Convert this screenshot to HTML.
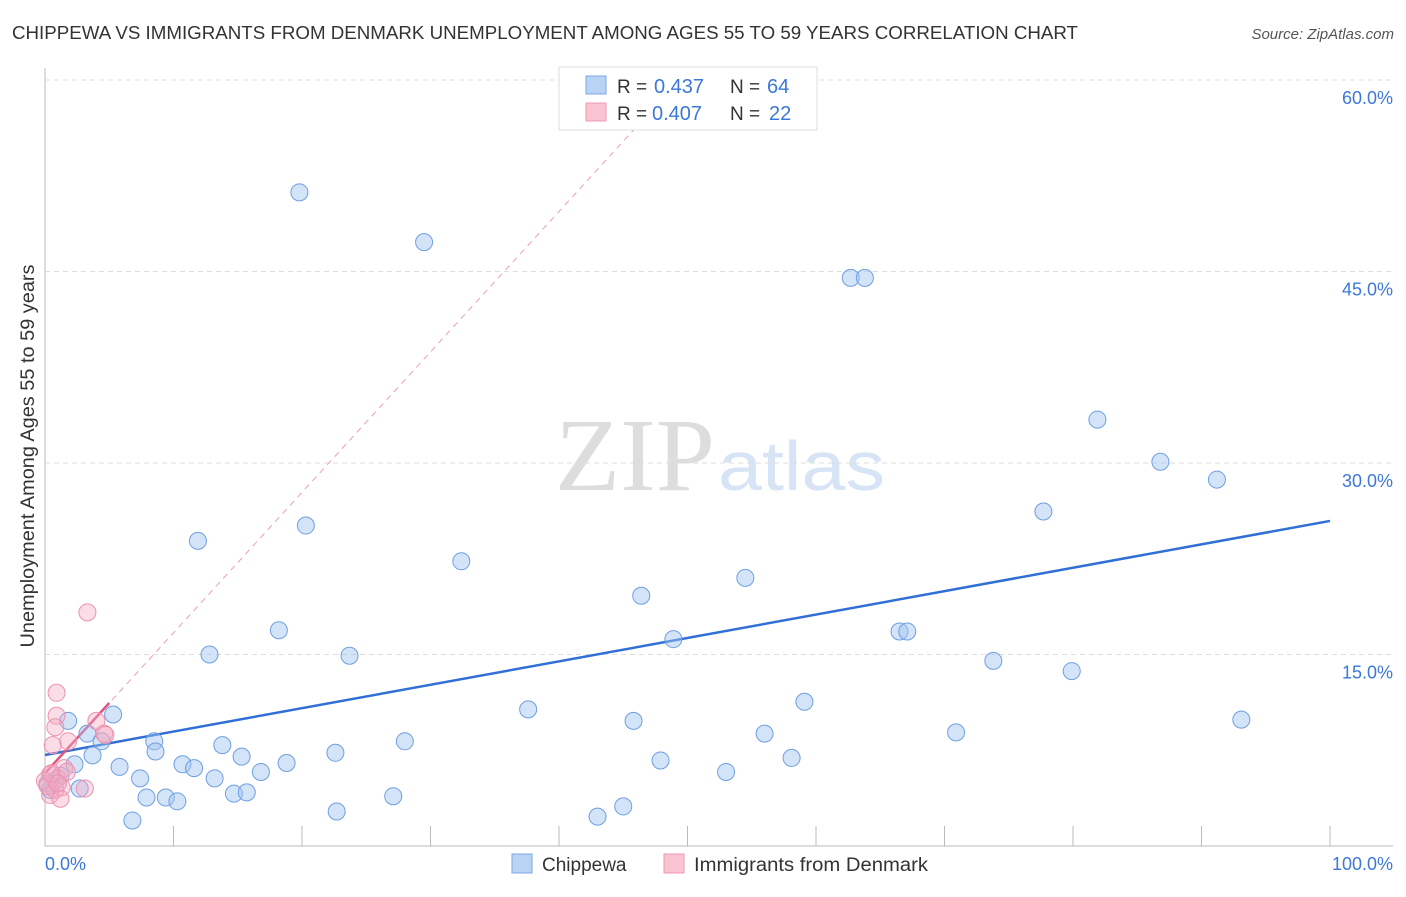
<!DOCTYPE html>
<html><head><meta charset="utf-8"><style>
body{margin:0;background:#fff;font-family:"Liberation Sans",sans-serif;}
svg text{font-family:"Liberation Sans",sans-serif;}
</style></head><body>
<svg id="chart" width="1406" height="892">
<text x="12" y="39" font-size="18" fill="#333" textLength="1066" lengthAdjust="spacingAndGlyphs">CHIPPEWA VS IMMIGRANTS FROM DENMARK UNEMPLOYMENT AMONG AGES 55 TO 59 YEARS CORRELATION CHART</text>
<text x="1394" y="39" font-size="15" fill="#555" text-anchor="end" font-style="italic">Source: ZipAtlas.com</text>
<text x="555" y="490" font-size="104" fill="#ddd" textLength="160" lengthAdjust="spacingAndGlyphs" style="font-family:'Liberation Serif',serif">ZIP</text>
<text x="718" y="490" font-size="70" fill="#d6e4f5" textLength="167" lengthAdjust="spacingAndGlyphs">atlas</text>
<g id="grid"></g><g id="ticks"></g><g id="lines"></g><g id="pts"></g>
<text transform="translate(34,456) rotate(-90)" font-size="19" fill="#333" text-anchor="middle" textLength="383" lengthAdjust="spacingAndGlyphs">Unemployment Among Ages 55 to 59 years</text>
<text x="45" y="870" font-size="18" fill="#3b78d8">0.0%</text>
<text x="1393" y="870" font-size="18" fill="#3b78d8" text-anchor="end">100.0%</text>
<g>
<rect x="559" y="67" width="258" height="63" fill="#fff" stroke="#ddd"/>
<rect x="586" y="76" width="20" height="18" fill="#b9d3f5" stroke="#7aa7e6"/>
<rect x="586" y="103" width="20" height="18" fill="#f9c3d2" stroke="#ee9ab3"/>
<text x="617" y="93" font-size="19" fill="#333">R =</text><text x="654" y="93" font-size="20" fill="#3b78d8">0.437</text>
<text x="730" y="93" font-size="19" fill="#333">N =</text><text x="767" y="93" font-size="20" fill="#3b78d8">64</text>
<text x="617" y="120" font-size="19" fill="#333">R =</text><text x="652" y="120" font-size="20" fill="#3b78d8">0.407</text>
<text x="730" y="120" font-size="19" fill="#333">N =</text><text x="769" y="120" font-size="20" fill="#3b78d8">22</text>
</g>
<g>
<rect x="512" y="854" width="20" height="19" fill="#b9d3f5" stroke="#7aa7e6"/>
<text x="542" y="871" font-size="19" fill="#333">Chippewa</text>
<rect x="664" y="854" width="20" height="19" fill="#f9c3d2" stroke="#ee9ab3"/>
<text x="694" y="871" font-size="19" fill="#333" textLength="234" lengthAdjust="spacingAndGlyphs">Immigrants from Denmark</text>
</g>
</svg>
<script>
const yTicks=[15,30,45,60];
const yTickLabels=["15.0%","30.0%","45.0%","60.0%"];
const xTicks=[0,10,20,30,40,50,60,70,80,90,100];
const chipX=[19.8,29.5,62.7,63.8,81.9,86.8,91.2,77.7,20.3,11.9,32.4,54.5,46.4,18.2,66.5,67.1,48.9,12.8,23.7,73.8,79.9,5.3,1.8,37.6,59.1,93.1,45.8,70.9,3.3,8.5,4.4,28.0,13.8,56.0,3.7,8.6,15.3,22.6,2.3,10.7,11.6,18.8,47.9,58.1,5.8,16.8,7.4,13.2,53.0,0.8,2.7,7.9,9.4,14.7,15.7,27.1,10.3,22.7,45.0,6.8,43.0,0.4,0.2,1.2];
const chipY=[51.2,47.3,44.5,44.5,33.4,30.1,28.7,26.2,25.1,23.9,22.3,21.0,19.6,16.9,16.8,16.8,16.2,15.0,14.9,14.5,13.7,10.3,9.8,10.7,11.3,9.9,9.8,8.9,8.8,8.2,8.2,8.2,7.9,8.8,7.1,7.4,7.0,7.3,6.4,6.4,6.1,6.5,6.7,6.9,6.2,5.8,5.3,5.3,5.8,5.1,4.5,3.8,3.8,4.1,4.2,3.9,3.5,2.7,3.1,2.0,2.3,4.4,4.9,5.5];
const denX=[3.3,0.9,0.9,4.0,0.8,1.8,0.6,4.6,1.5,0.4,1.0,0.0,1.3,0.8,0.4,3.1,1.2,0.2,0.5,4.7,1.7,1.0];
const denY=[18.3,12.0,10.2,9.8,9.3,8.2,7.9,8.8,6.1,5.6,5.3,5.1,4.6,4.4,4.0,4.5,3.7,4.7,5.7,8.7,5.8,4.9];
const chipTrend=[7.13,25.46];
const denTrend=[5.7,1.1];
const X=v=>45+v*12.85, Y=v=>846-v*12.767;
const NS="http://www.w3.org/2000/svg";
function mk(p,t,a){const e=document.createElementNS(NS,t);for(const k in a)e.setAttribute(k,a[k]);document.getElementById(p).appendChild(e);return e;}
let ax=mk('grid','line',{x1:45,y1:68,x2:45,y2:846,stroke:'#bbb'});


let bx=mk('grid','line',{x1:45,y1:846,x2:1393,y2:846,stroke:'#bbb'});


yTicks.forEach((t,i)=>{
 const g=mk('grid','line',{x1:45,y1:Y(t),x2:1393,y2:Y(t),stroke:'#ddd','stroke-dasharray':'5,4'});
 
 
 const l=mk('ticks','text',{x:1393,y:Y(t)+24,'font-size':18,fill:'#3b78d8','text-anchor':'end'});
 l.textContent=yTickLabels[i];
 
 
});
xTicks.forEach(t=>{
 const g=mk('ticks','line',{x1:X(t),y1:826,x2:X(t),y2:846,stroke:'#bbb'});
 
 
});
let bl=mk('lines','line',{x1:X(0),y1:Y(chipTrend[0]),x2:X(100),y2:Y(chipTrend[1]),stroke:'#2f6fd6','stroke-width':2.5});


const xe=(60-denTrend[0])/denTrend[1];
let pd=mk('lines','line',{x1:X(0),y1:Y(denTrend[0]),x2:X(xe),y2:Y(60),stroke:'#e8a0b4','stroke-width':1,'stroke-dasharray':'6,5'});


let pl=mk('lines','line',{x1:X(0),y1:Y(denTrend[0]),x2:X(5),y2:Y(denTrend[0]+5*denTrend[1]),stroke:'#e0557d','stroke-width':2.5});


chipX.forEach((v,i)=>{
 const c=mk('pts','circle',{cx:X(v),cy:Y(chipY[i]),r:8.5,fill:'rgba(160,195,240,0.45)',stroke:'#6e9fe0','stroke-width':1});
 
 
});
denX.forEach((v,i)=>{
 const c=mk('pts','circle',{cx:X(v),cy:Y(denY[i]),r:8.5,fill:'rgba(245,170,195,0.4)',stroke:'#ec92ae','stroke-width':1});
 
 
});
</script>
</body></html>
